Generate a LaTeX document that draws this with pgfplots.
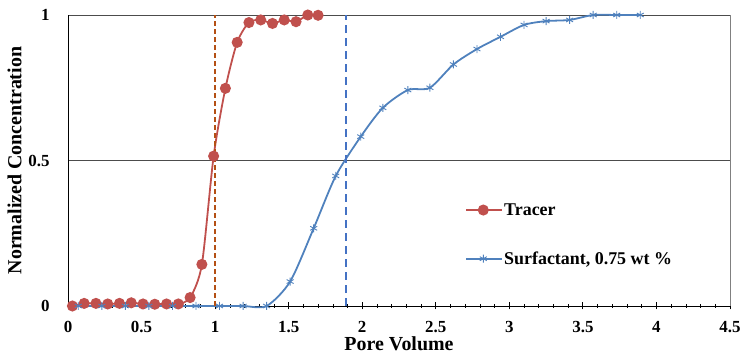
\documentclass[border=0pt]{standalone}
\usepackage{fontspec}
\setmainfont{Liberation Serif}
\usepackage{pgfplots}
\pgfplotsset{compat=1.18}
\definecolor{tracercol}{RGB}{192,80,77}
\definecolor{surfcol}{RGB}{79,129,189}
\definecolor{dashbrown}{RGB}{180,80,20}
\definecolor{dashblue}{RGB}{68,114,196}
\begin{document}
\begin{tikzpicture}
\useasboundingbox (0,0) rectangle (740bp,358bp);
\begin{axis}[
  at={(68bp,52bp)}, anchor=south west,
  scale only axis, width=662bp, height=291bp,
  xmin=0, xmax=4.5, ymin=0, ymax=1,
  axis x line*=bottom, axis y line*=left,
  axis line style={black, line width=1pt, -},
  xtick={0,0.5,...,4.5}, minor x tick num=4,
  ytick={0,0.5,1},
  xtick align=center,
  major x tick style={black, line width=0.8pt},
  minor x tick style={black, line width=0.6pt},
  major tick length=7bp, minor tick length=4bp,
  ytick style={draw=none},
  ymajorgrids, grid style={black!70, line width=0.8pt},
  /pgf/number format/assume math mode=true,
  tick label style={font=\fontsize{17}{20}\selectfont\bfseries},
  xticklabel style={yshift=-8bp},
  yticklabel style={xshift=-15bp},
  label style={font=\fontsize{20}{23}\selectfont\bfseries},
  xlabel={Pore Volume},
  ylabel={Normalized Concentration},
  xlabel style={yshift=3bp},
  ylabel style={yshift=0bp},
  legend style={at={(0.6,0.36)}, anchor=north west, draw=none, fill=none, inner sep=0pt,
    font=\fontsize{18}{21}\selectfont\bfseries, row sep=31bp,
    /tikz/every even column/.append style={column sep=2bp}},
  legend image code/.code={\draw[mark repeat=2,mark phase=2,#1] plot coordinates {(0bp,0bp) (17bp,0bp) (35bp,0bp)};},
  legend cell align=left,
  clip=false,
]
\addplot[tracercol, line width=1.8pt, smooth, tension=0.45, mark=*, mark size=4.6bp, mark options={solid, fill=tracercol, draw=tracercol}]
coordinates {(0.03,0.0) (0.11,0.009) (0.19,0.009) (0.27,0.007) (0.35,0.009) (0.43,0.011) (0.51,0.007) (0.59,0.006) (0.67,0.007) (0.75,0.007) (0.83,0.029) (0.91,0.143) (0.99,0.515) (1.07,0.748) (1.15,0.906) (1.23,0.974) (1.31,0.983) (1.39,0.971) (1.47,0.983) (1.55,0.977) (1.63,1.0) (1.70,0.999)};
\addlegendentry{Tracer}
\addplot[surfcol, line width=1.8pt, smooth, tension=0.45, mark=asterisk, mark size=4bp, mark options={solid, line width=0.9pt}]
coordinates {(0.07,0) (0.23,0) (0.39,0) (0.55,0) (0.71,0) (0.87,0) (1.03,0) (1.19,0) (1.35,0) (1.51,0.084) (1.67,0.267) (1.82,0.447) (1.99,0.582) (2.14,0.681) (2.31,0.742) (2.46,0.750) (2.62,0.830) (2.78,0.883) (2.94,0.925) (3.10,0.966) (3.25,0.979) (3.41,0.983) (3.57,1.0) (3.73,1.0) (3.89,1.0)};
\addlegendentry{Surfactant, 0.75 wt \%}
\addplot[dashbrown, line width=1.5pt, dash pattern=on 5bp off 3bp, forget plot] coordinates {(1,0) (1,1)};
\addplot[dashblue, line width=1.8pt, dash pattern=on 8bp off 5bp, forget plot] coordinates {(1.89,0) (1.89,1)};
\addplot[gray, line width=1pt, forget plot] coordinates {(4.5,0) (4.5,1)};
\end{axis}
\end{tikzpicture}
\end{document}
